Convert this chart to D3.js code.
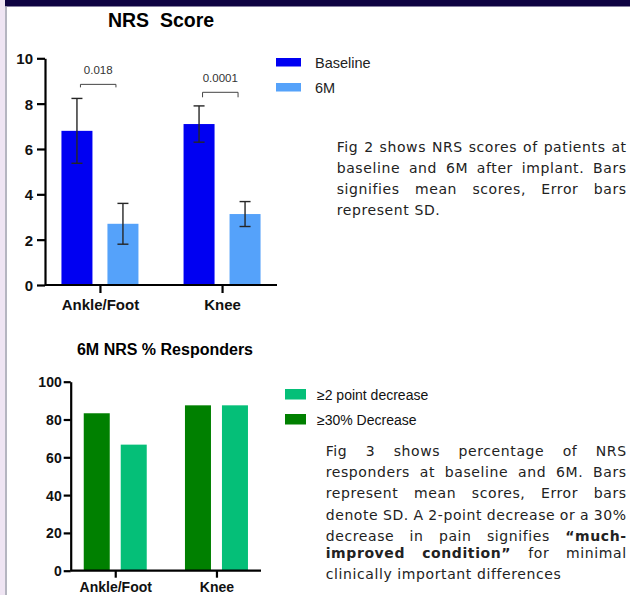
<!DOCTYPE html>
<html>
<head>
<meta charset="utf-8">
<script src="https://cdn.jsdelivr.net/npm/d3@7"></script>
<style>
  body { margin: 0; background: #fff; }
  svg { display: block; }
</style>
</head>
<body>
<div id="chart"></div>
<script>

// data
const groups = ["Ankle/Foot", "Knee"];

const nrsSeries = ["Baseline", "6M"];
const nrsMean = [[6.8, 2.7], [7.1, 3.13]];   // [group][series]
const nrsSD = [[1.43, 0.9], [0.8, 0.55]];
const nrsPValues = ["0.018", "0.0001"];
const nrsTicks = [0, 2, 4, 6, 8, 10];

const respSeries = ["≥30% Decrease", "≥2 point decrease"];
const respLegend = ["≥2 point decrease", "≥30% Decrease"];
const respValues = [[83.3, 66.7], [87.5, 87.5]];
const respTicks = [0, 20, 40, 60, 80, 100];

const fig2Lines = [
  "Fig 2 shows NRS scores of patients at",
  "baseline and 6M after implant. Bars",
  "signifies mean scores, Error bars",
  "represent SD."
];
// words wrapped in * are bold
const fig3Lines = [
  "Fig 3 shows percentage of NRS",
  "responders at baseline and 6M. Bars",
  "represent mean scores, Error bars",
  "denote SD. A 2-point decrease or a 30%",
  "decrease in pain signifies *“much-*",
  "*improved* *condition”* for minimal",
  "clinically important differences"
];

// dimensions
const width = 630, height = 595;
const chartFont = "'Liberation Sans', Arial, sans-serif";
const textFont = "'DejaVu Sans', Verdana, sans-serif";

const svg = d3.select("#chart").append("svg")
  .attr("width", width)
  .attr("height", height);

// page frame
svg.append("rect").attr("x", 0).attr("y", 0).attr("width", 5).attr("height", height).attr("fill", "#efe5f3");
svg.append("rect").attr("x", 5).attr("y", 0).attr("width", width - 5).attr("height", 6.5).attr("fill", "#0e0342");
svg.append("line").attr("x1", 6).attr("x2", 6).attr("y1", 6).attr("y2", height)
  .attr("stroke", "#9c9cab").attr("stroke-width", 1.5);

// ---------- Fig 2: NRS Score ----------
const box1 = { left: 45, right: 277, top: 58.3, bottom: 285 };

const y1 = d3.scaleLinear().domain([0, 10]).range([box1.bottom, box1.top]);
const x1 = d3.scalePoint().domain(groups).range([box1.left, box1.right]).padding(0.45);
const inner1 = d3.scaleBand().domain(nrsSeries).range([-38.5, 38.5]).paddingInner(0.326);
const color1 = d3.scaleOrdinal().domain(nrsSeries).range(["#0000f2", "#55a2fa"]);

svg.append("text")
  .attr("x", 161).attr("y", 27)
  .attr("text-anchor", "middle")
  .style("font", `bold 19.5px ${chartFont}`)
  .style("white-space", "pre")
  .text("NRS  Score");

const g1 = svg.append("g");
groups.forEach((grp, gi) => {
  nrsSeries.forEach((s, si) => {
    const cx = x1(grp) + inner1(s);
    const m = nrsMean[gi][si], sd = nrsSD[gi][si];
    g1.append("rect")
      .attr("x", cx)
      .attr("y", y1(m))
      .attr("width", inner1.bandwidth())
      .attr("height", y1(0) - y1(m))
      .attr("fill", color1(s));
    // error bar (SD)
    const mid = cx + inner1.bandwidth() / 2;
    const eb = g1.append("g").attr("stroke", "#262626").attr("stroke-width", 1.4);
    eb.append("line").attr("x1", mid).attr("x2", mid).attr("y1", y1(m + sd)).attr("y2", y1(m - sd));
    eb.append("line").attr("x1", mid - 5.5).attr("x2", mid + 5.5).attr("y1", y1(m + sd)).attr("y2", y1(m + sd));
    eb.append("line").attr("x1", mid - 5.5).attr("x2", mid + 5.5).attr("y1", y1(m - sd)).attr("y2", y1(m - sd));
  });
});

// significance brackets
const bracketY = [8.85, 8.5];
groups.forEach((grp, gi) => {
  const xa = x1(grp) + inner1(nrsSeries[0]) + inner1.bandwidth() / 2 + 3.5;
  const xb = x1(grp) + inner1(nrsSeries[1]) + inner1.bandwidth() / 2 - 7;
  const by = y1(bracketY[gi]);
  const legs = gi === 0 ? 3 : 5;
  g1.append("path")
    .attr("d", `M${xa},${by + legs}V${by}H${xb}V${by + legs}`)
    .attr("fill", "none").attr("stroke", "#444").attr("stroke-width", 1);
  g1.append("text")
    .attr("x", (xa + xb) / 2).attr("y", by - 10)
    .attr("text-anchor", "middle")
    .style("font", `11.5px ${chartFont}`)
    .attr("fill", "#333")
    .text(nrsPValues[gi]);
});

const yAxis1 = svg.append("g")
  .attr("transform", `translate(${box1.left},0)`)
  .call(d3.axisLeft(y1).tickValues(nrsTicks).tickSize(8).tickPadding(4).tickSizeOuter(0));
const xAxis1 = svg.append("g")
  .attr("transform", `translate(0,${box1.bottom})`)
  .call(d3.axisBottom(x1).tickSize(8).tickPadding(6).tickSizeOuter(0));
xAxis1.select(".domain").attr("d", `M${box1.left},0H${box1.right}`);

[yAxis1, xAxis1].forEach(a => {
  a.selectAll("path, line").attr("stroke", "#000").attr("stroke-width", 2.2);
  a.selectAll("text").attr("fill", "#111").style("font", `bold 15px ${chartFont}`);
});
yAxis1.selectAll("text").attr("dy", "0.36em");

// legend
const leg1 = svg.append("g").attr("transform", "translate(276,58)");
nrsSeries.forEach((s, i) => {
  leg1.append("rect").attr("x", 0).attr("y", i * 25).attr("width", 25).attr("height", 8.5).attr("fill", color1(s));
  leg1.append("text").attr("x", 39).attr("y", i * 25 + 9.5)
    .style("font", `14.5px ${chartFont}`).attr("fill", "#222").text(s);
});

// ---------- Fig 3: responders ----------
const box2 = { left: 70.7, right: 261, top: 381.7, bottom: 570.7 };

const y2 = d3.scaleLinear().domain([0, 100]).range([box2.bottom, box2.top]);
const x2 = d3.scalePoint().domain(groups).range([box2.left, box2.right]).padding(0.44);
const inner2 = d3.scaleBand().domain(respSeries).range([-31.5, 31.5]).paddingInner(0.297);
const color2 = d3.scaleOrdinal().domain(respSeries).range(["#008000", "#05bf78"]);

svg.append("text")
  .attr("x", 165).attr("y", 355)
  .attr("text-anchor", "middle")
  .style("font", `bold 16px ${chartFont}`)
  .text("6M NRS % Responders");

const g2 = svg.append("g");
groups.forEach((grp, gi) => {
  respSeries.forEach((s, si) => {
    const v = respValues[gi][si];
    g2.append("rect")
      .attr("x", x2(grp) + inner2(s))
      .attr("y", y2(v))
      .attr("width", inner2.bandwidth())
      .attr("height", y2(0) - y2(v))
      .attr("fill", color2(s));
  });
});

const yAxis2 = svg.append("g")
  .attr("transform", `translate(${box2.left},0)`)
  .call(d3.axisLeft(y2).tickValues(respTicks).tickSize(7).tickPadding(2).tickSizeOuter(0));
const xAxis2 = svg.append("g")
  .attr("transform", `translate(0,${box2.bottom})`)
  .call(d3.axisBottom(x2).tickSize(7).tickPadding(4).tickSizeOuter(0));
xAxis2.select(".domain").attr("d", `M${box2.left},0H${box2.right}`);

[yAxis2, xAxis2].forEach(a => {
  a.selectAll("path, line").attr("stroke", "#000").attr("stroke-width", 2.2);
  a.selectAll("text").attr("fill", "#111").style("font", `bold 14px ${chartFont}`);
});
yAxis2.selectAll("text").attr("dy", "0.36em");

const leg2 = svg.append("g").attr("transform", "translate(285,389)");
respLegend.forEach((s, i) => {
  leg2.append("rect").attr("x", 0).attr("y", i * 25).attr("width", 21).attr("height", 10.5).attr("fill", color2(s));
  leg2.append("text").attr("x", 32).attr("y", i * 25 + 10.5)
    .style("font", `14px ${chartFont}`).attr("fill", "#111").text(s);
});

// ---------- justified captions ----------
function paragraph(lines, x0, x1, baselines) {
  const g = svg.append("g")
    .style("font", `14px ${textFont}`)
    .style("letter-spacing", "0.6px")
    .attr("fill", "#222");
  lines.forEach((line, li) => {
    const words = line.split(/\s+/).filter(w => w.length);
    const t = g.append("text").attr("y", baselines[li]);
    const spans = words.map(w => {
      const bold = /^\*.*\*$/.test(w);
      return t.append("tspan")
        .style("font-weight", bold ? "bold" : "normal")
        .text(bold ? w.slice(1, -1) : w);
    });
    const widths = spans.map(s => s.node().getComputedTextLength());
    const last = li === lines.length - 1;
    const space = t.append("tspan").text("\u00a0");
    const spaceW = space.node().getComputedTextLength();
    space.remove();
    const gap = last || words.length < 2
      ? spaceW
      : (x1 - x0 - d3.sum(widths)) / (words.length - 1);
    let x = x0;
    spans.forEach((s, i) => {
      s.attr("x", x);
      x += widths[i] + gap;
    });
  });
}

paragraph(fig2Lines, 336.7, 626.7, [151.7, 172.7, 194, 215.3]);
paragraph(fig3Lines, 325.7, 626.7, [456, 477, 498, 519.5, 541, 557.7, 579.3]);

</script>
</body>
</html>
